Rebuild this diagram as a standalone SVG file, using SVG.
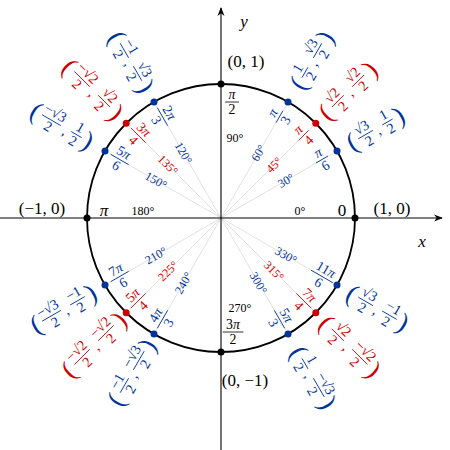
<svg xmlns="http://www.w3.org/2000/svg" width="450" height="450" viewBox="0 0 450 450">
<style>
text{font-family:"Liberation Serif",serif;font-size:12px;text-anchor:middle}
.k{fill:#000;color:#000}.b{fill:#003399;color:#003399}.r{fill:#cc0000;color:#cc0000}
line.fb{stroke:currentColor;stroke-width:0.7}
.p{font-size:22px}
.big{font-size:17px}
.ray{stroke:#ccc;stroke-width:0.6}
</style>
<defs><marker id="ah" viewBox="0 0 10 10" refX="9" refY="5" markerWidth="8" markerHeight="8" orient="auto"><path d="M0,1 L10,5 L0,9 L3,5Z" fill="#000"/></marker></defs>
<g id="connectors">
<line class="ray" x1="221" y1="218" x2="337" y2="151"/><line class="ray" x1="221" y1="218" x2="315.8" y2="123.2"/><line class="ray" x1="221" y1="218" x2="288" y2="102"/>
<line class="ray" x1="221" y1="218" x2="154" y2="102"/><line class="ray" x1="221" y1="218" x2="126.2" y2="123.2"/><line class="ray" x1="221" y1="218" x2="105" y2="151"/>
<line class="ray" x1="221" y1="218" x2="105" y2="285"/><line class="ray" x1="221" y1="218" x2="126.2" y2="312.8"/><line class="ray" x1="221" y1="218" x2="154" y2="334"/>
<line class="ray" x1="221" y1="218" x2="288" y2="334"/><line class="ray" x1="221" y1="218" x2="315.8" y2="312.8"/><line class="ray" x1="221" y1="218" x2="337" y2="285"/>
<line x1="0" y1="218" x2="442" y2="218" stroke="#000" stroke-width="1.1" marker-end="url(#ah)"/>
<line x1="221" y1="450" x2="221" y2="8" stroke="#000" stroke-width="1.1" marker-end="url(#ah)"/>
</g>
<g id="circle"><circle cx="221" cy="218" r="134" fill="none" stroke="#000" stroke-width="1.8"/></g>
<g id="dots">
<circle cx="355" cy="218" r="3.5"/><circle cx="221" cy="84" r="3.5"/><circle cx="87" cy="218" r="3.5"/><circle cx="221" cy="352" r="3.5"/>
<g fill="#003399"><circle cx="337" cy="151" r="3.5"/><circle cx="288" cy="102" r="3.5"/><circle cx="154" cy="102" r="3.5"/><circle cx="105" cy="151" r="3.5"/><circle cx="105" cy="285" r="3.5"/><circle cx="154" cy="334" r="3.5"/><circle cx="288" cy="334" r="3.5"/><circle cx="337" cy="285" r="3.5"/></g>
<g fill="#cc0000"><circle cx="315.8" cy="123.2" r="3.5"/><circle cx="126.2" cy="123.2" r="3.5"/><circle cx="126.2" cy="312.8" r="3.5"/><circle cx="315.8" cy="312.8" r="3.5"/></g>
</g>
<g id="axislabels" class="k">
<text x="422" y="247" class="big" font-style="italic">x</text>
<text x="244" y="27" class="big" font-style="italic">y</text>
<text x="246" y="67" class="big">(0, 1)</text>
<text x="392" y="214" class="big">(1, 0)</text>
<text x="42" y="214" class="big">(−1, 0)</text>
<text x="245" y="386" class="big">(0, −1)</text>
<text x="342" y="216" class="big">0</text>
<text x="300" y="215" font-size="12">0°</text>
<text x="104" y="216" class="big" font-style="italic">π</text>
<text x="143" y="215" font-size="12">180°</text>
<text x="235" y="142" font-size="12">90°</text>
<text x="240" y="312" font-size="12">270°</text>
<g transform="translate(232,102) scale(1.15)"><text y="-3" font-style="italic">π</text><line class="fb" x1="-6" x2="6" y1="0" y2="0"/><text y="10">2</text></g>
<g transform="translate(233,332) scale(1.15)"><text y="-3">3<tspan font-style="italic">π</tspan></text><line class="fb" x1="-9" x2="9" y1="0" y2="0"/><text y="10">2</text></g>
</g>
<g id="degrees" font-size="12">
<text class="b" transform="translate(286,180.5) rotate(-30)" y="4">30°</text>
<text class="r" transform="translate(274,165) rotate(-45)" y="4">45°</text>
<text class="b" transform="translate(258.5,153) rotate(-60)" y="4">60°</text>
<text class="b" transform="translate(183.5,153) rotate(60)" y="4">120°</text>
<text class="r" transform="translate(168,165) rotate(45)" y="4">135°</text>
<text class="b" transform="translate(156,180.5) rotate(30)" y="4">150°</text>
<text class="b" transform="translate(156,255.5) rotate(-30)" y="4">210°</text>
<text class="r" transform="translate(168,271) rotate(-45)" y="4">225°</text>
<text class="b" transform="translate(183.5,283) rotate(-60)" y="4">240°</text>
<text class="b" transform="translate(258.5,283) rotate(60)" y="4">300°</text>
<text class="r" transform="translate(274,271) rotate(45)" y="4">315°</text>
<text class="b" transform="translate(286,255.5) rotate(30)" y="4">330°</text>
</g>
<g id="radians">
<g class="b" transform="translate(322,159.5) rotate(-30) scale(1.15)"><text y="-3" font-style="italic">π</text><line class="fb" x1="-6" x2="6" y1="0" y2="0"/><text y="10">6</text></g>
<g class="r" transform="translate(303.7,135.3) rotate(-45) scale(1.15)"><text y="-3" font-style="italic">π</text><line class="fb" x1="-6" x2="6" y1="0" y2="0"/><text y="10">4</text></g>
<g class="b" transform="translate(279.5,116.7) rotate(-60) scale(1.15)"><text y="-3" font-style="italic">π</text><line class="fb" x1="-6" x2="6" y1="0" y2="0"/><text y="10">3</text></g>
<g class="b" transform="translate(162.5,116.7) rotate(60) scale(1.15)"><text y="-3">2<tspan font-style="italic">π</tspan></text><line class="fb" x1="-9" x2="9" y1="0" y2="0"/><text y="10">3</text></g>
<g class="r" transform="translate(138.3,135.3) rotate(45) scale(1.15)"><text y="-3">3<tspan font-style="italic">π</tspan></text><line class="fb" x1="-9" x2="9" y1="0" y2="0"/><text y="10">4</text></g>
<g class="b" transform="translate(119.7,159.5) rotate(30) scale(1.15)"><text y="-3">5<tspan font-style="italic">π</tspan></text><line class="fb" x1="-9" x2="9" y1="0" y2="0"/><text y="10">6</text></g>
<g class="b" transform="translate(119.7,276.5) rotate(-30) scale(1.15)"><text y="-3">7<tspan font-style="italic">π</tspan></text><line class="fb" x1="-9" x2="9" y1="0" y2="0"/><text y="10">6</text></g>
<g class="r" transform="translate(138.3,300.7) rotate(-45) scale(1.15)"><text y="-3">5<tspan font-style="italic">π</tspan></text><line class="fb" x1="-9" x2="9" y1="0" y2="0"/><text y="10">4</text></g>
<g class="b" transform="translate(162.5,319.3) rotate(-60) scale(1.15)"><text y="-3">4<tspan font-style="italic">π</tspan></text><line class="fb" x1="-9" x2="9" y1="0" y2="0"/><text y="10">3</text></g>
<g class="b" transform="translate(279.5,319.3) rotate(60) scale(1.15)"><text y="-3">5<tspan font-style="italic">π</tspan></text><line class="fb" x1="-9" x2="9" y1="0" y2="0"/><text y="10">3</text></g>
<g class="r" transform="translate(303.7,300.7) rotate(45) scale(1.15)"><text y="-3">7<tspan font-style="italic">π</tspan></text><line class="fb" x1="-9" x2="9" y1="0" y2="0"/><text y="10">4</text></g>
<g class="b" transform="translate(322,276.5) rotate(30) scale(1.15)"><text y="-3">11<tspan font-style="italic">π</tspan></text><line class="fb" x1="-11" x2="11" y1="0" y2="0"/><text y="10">6</text></g>
</g>
<g id="coords">
<g id="c30" class="b" transform="translate(377,128) rotate(-30) scale(1.2)"><text class="p" x="-24" y="7">(</text><text x="-11" y="-3">√3</text><line class="fb" x1="-18" x2="-4" y1="0" y2="0"/><text x="-11" y="10">2</text><text x="0" y="6">,</text><text x="10" y="-3">1</text><line class="fb" x1="5" x2="15" y1="0" y2="0"/><text x="10" y="10">2</text><text class="p" x="21" y="7">)</text></g>
<g id="c45" class="r" transform="translate(348,91) rotate(-45) scale(1.2)"><text class="p" x="-26" y="7">(</text><text x="-12" y="-3">√2</text><line class="fb" x1="-19" x2="-5" y1="0" y2="0"/><text x="-12" y="10">2</text><text x="0" y="6">,</text><text x="12" y="-3">√2</text><line class="fb" x1="5" x2="19" y1="0" y2="0"/><text x="12" y="10">2</text><text class="p" x="26" y="7">)</text></g>
<g id="c60" class="b" transform="translate(311,62) rotate(-60) scale(1.2)"><text class="p" x="-21" y="7">(</text><text x="-10" y="-3">1</text><line class="fb" x1="-15" x2="-5" y1="0" y2="0"/><text x="-10" y="10">2</text><text x="0" y="6">,</text><text x="11" y="-3">√3</text><line class="fb" x1="4" x2="18" y1="0" y2="0"/><text x="11" y="10">2</text><text class="p" x="24" y="7">)</text></g>
<g id="c120" class="b" transform="translate(131,62) rotate(60) scale(1.2)"><text class="p" x="-24" y="7">(</text><text x="-11" y="-3">−1</text><line class="fb" x1="-18" x2="-4" y1="0" y2="0"/><text x="-11" y="10">2</text><text x="0" y="6">,</text><text x="11" y="-3">√3</text><line class="fb" x1="4" x2="18" y1="0" y2="0"/><text x="11" y="10">2</text><text class="p" x="24" y="7">)</text></g>
<g id="c135" class="r" transform="translate(94,91) rotate(45) scale(1.2)"><text class="p" x="-29" y="7">(</text><text x="-14" y="-3">−√2</text><line class="fb" x1="-23" x2="-5" y1="0" y2="0"/><text x="-14" y="10">2</text><text x="0" y="6">,</text><text x="12" y="-3">√2</text><line class="fb" x1="5" x2="19" y1="0" y2="0"/><text x="12" y="10">2</text><text class="p" x="26" y="7">)</text></g>
<g id="c150" class="b" transform="translate(65,128) rotate(30) scale(1.2)"><text class="p" x="-28" y="7">(</text><text x="-13" y="-3">−√3</text><line class="fb" x1="-22" x2="-4" y1="0" y2="0"/><text x="-13" y="10">2</text><text x="1" y="6">,</text><text x="11" y="-3">1</text><line class="fb" x1="6" x2="16" y1="0" y2="0"/><text x="11" y="10">2</text><text class="p" x="22" y="7">)</text></g>
<g id="c210" class="b" transform="translate(65,308) rotate(-30) scale(1.2)"><text class="p" x="-28" y="7">(</text><text x="-13" y="-3">−√3</text><line class="fb" x1="-22" x2="-4" y1="0" y2="0"/><text x="-13" y="10">2</text><text x="0" y="6">,</text><text x="12" y="-3">−1</text><line class="fb" x1="5" x2="19" y1="0" y2="0"/><text x="12" y="10">2</text><text class="p" x="25" y="7">)</text></g>
<g id="c225" class="r" transform="translate(94,345) rotate(-45) scale(1.2)"><text class="p" x="-30" y="7">(</text><text x="-14" y="-3">−√2</text><line class="fb" x1="-23" x2="-5" y1="0" y2="0"/><text x="-14" y="10">2</text><text x="0" y="6">,</text><text x="14" y="-3">−√2</text><line class="fb" x1="5" x2="23" y1="0" y2="0"/><text x="14" y="10">2</text><text class="p" x="30" y="7">)</text></g>
<g id="c240" class="b" transform="translate(131,374) rotate(-60) scale(1.2)"><text class="p" x="-25" y="7">(</text><text x="-11" y="-3">−1</text><line class="fb" x1="-18" x2="-4" y1="0" y2="0"/><text x="-11" y="10">2</text><text x="0" y="6">,</text><text x="13" y="-3">−√3</text><line class="fb" x1="4" x2="22" y1="0" y2="0"/><text x="13" y="10">2</text><text class="p" x="28" y="7">)</text></g>
<g id="c300" class="b" transform="translate(311,374) rotate(60) scale(1.2)"><text class="p" x="-21" y="7">(</text><text x="-10" y="-3">1</text><line class="fb" x1="-15" x2="-5" y1="0" y2="0"/><text x="-10" y="10">2</text><text x="0" y="6">,</text><text x="13" y="-3">−√3</text><line class="fb" x1="4" x2="22" y1="0" y2="0"/><text x="13" y="10">2</text><text class="p" x="28" y="7">)</text></g>
<g id="c315" class="r" transform="translate(348,345) rotate(45) scale(1.2)"><text class="p" x="-26" y="7">(</text><text x="-12" y="-3">√2</text><line class="fb" x1="-19" x2="-5" y1="0" y2="0"/><text x="-12" y="10">2</text><text x="0" y="6">,</text><text x="14" y="-3">−√2</text><line class="fb" x1="5" x2="23" y1="0" y2="0"/><text x="14" y="10">2</text><text class="p" x="30" y="7">)</text></g>
<g id="c330" class="b" transform="translate(377,308) rotate(30) scale(1.2)"><text class="p" x="-24" y="7">(</text><text x="-11" y="-3">√3</text><line class="fb" x1="-18" x2="-4" y1="0" y2="0"/><text x="-11" y="10">2</text><text x="0" y="6">,</text><text x="12" y="-3">−1</text><line class="fb" x1="5" x2="19" y1="0" y2="0"/><text x="12" y="10">2</text><text class="p" x="25" y="7">)</text></g>
</g>
</svg>
